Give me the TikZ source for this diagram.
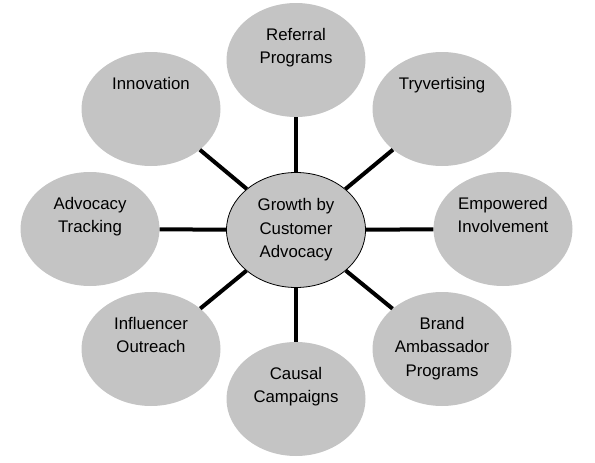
\documentclass[tikz,border=0pt]{standalone}
\usepackage{fontspec}
\setmainfont{Liberation Sans}
\usetikzlibrary{shapes.geometric}
\definecolor{leafGray}{HTML}{C4C4C4}

% text of an outer bubble, set in its upper part
\newcommand{\leaflabel}[1]{\parbox[c][64pt][t]{96pt}{\centering #1}}

\begin{document}
\begin{tikzpicture}[x=1pt, y=-1pt,
    leaf/.style={ellipse, fill=leafGray, minimum width=139pt, minimum height=114pt, inner sep=0pt, font=\fontsize{16.8}{23.5}\selectfont},
    hub/.style={ellipse, draw=black, line width=0.8pt, fill=leafGray, minimum width=139pt, minimum height=115pt, inner sep=0pt, align=center, font=\fontsize{16.8}{23.5}\selectfont},
    spoke/.style={line width=4pt, black}]

    \useasboundingbox (0,0) rectangle (595,463);

    % centre
    \node[hub] (growth) at (296,230) {Growth by\\Customer\\Advocacy};

    % outer bubbles, clockwise from the top
    \node[leaf] (referral) at (296,60) {\leaflabel{Referral\\Programs}};
    \node[leaf] (tryvert) at (442,109) {\leaflabel{Tryvertising}};
    \node[leaf] (empower) at (503,229) {\leaflabel{Empowered\\Involvement}};
    \node[leaf] (brand) at (442,349) {\leaflabel{Brand\\Ambassador\\Programs}};
    \node[leaf] (causal) at (296,399) {\leaflabel{Causal\\Campaigns}};
    \node[leaf] (influ) at (151,349) {\leaflabel{Influencer\\Outreach}};
    \node[leaf] (tracking) at (90,229) {\leaflabel{Advocacy\\Tracking}};
    \node[leaf] (innov) at (151,109) {\leaflabel{Innovation}};

    % spokes
    \foreach \outer in {referral,tryvert,empower,brand,causal,influ,tracking,innov}
        \draw[spoke] (growth) -- (\outer);

\end{tikzpicture}
\end{document}
